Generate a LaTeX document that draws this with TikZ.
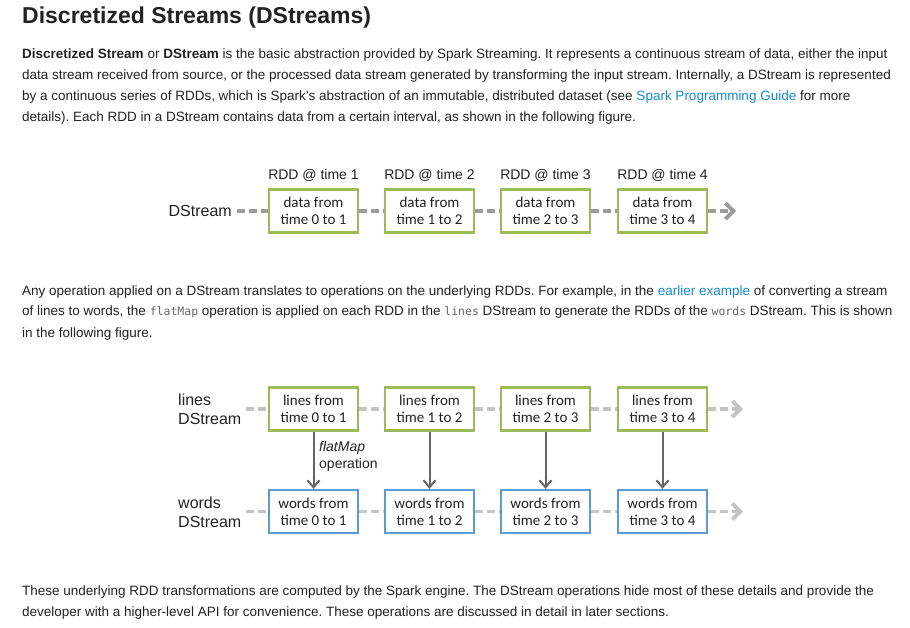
\documentclass[tikz,border=0pt]{standalone}
\usepackage{fontspec}
\setmainfont{Liberation Sans}
\setmonofont{DejaVu Sans Mono}
\newfontfamily\boxfont{Carlito}
\usetikzlibrary{arrows.meta}
\definecolor{txt}{HTML}{222222}
\definecolor{link}{HTML}{1589D1}
\definecolor{rddgreen}{HTML}{9BBB59}
\definecolor{rddblue}{HTML}{5B9BD5}
\definecolor{dashdark}{HTML}{9C9C9C}
\definecolor{dashlight}{HTML}{C4C4C4}
\definecolor{opgray}{HTML}{666666}
\newcommand{\code}[1]{{\ttfamily\fontsize{11.5}{13}\selectfont\color{opgray}#1}}
\frenchspacing

\begin{document}
\begin{tikzpicture}[x=1pt,y=-1pt,
    every node/.style={inner sep=0pt,text=txt},
    textline/.style={anchor=base west,font=\fontsize{13.5}{16}\selectfont},
    rdd/.style={draw=#1,line width=2.4pt,minimum width=89pt,minimum height=43pt,
        align=center,font=\boxfont\fontsize{15}{17}\selectfont,text=txt},
    stream/.style={draw=#1,line width=3.8pt,dash pattern=on 8pt off 4pt},
    streamend/.style={stream=#1,-{Straight Barb[length=8pt,width=16pt]}},
    flow/.style={draw=opgray,line width=2pt,-{Straight Barb[length=7pt,width=12pt]}}]
  \useasboundingbox[fill=white] (0,0) rectangle (910,628);

  % heading and first paragraph
  \node[anchor=base west,font=\bfseries\fontsize{23}{27}\selectfont] (title) at (22,23.3) {Discretized Streams (DStreams)};
  \node[textline] (p1a) at (22,58.5) {\textbf{Discretized Stream} or \textbf{DStream} is the basic abstraction provided by Spark Streaming. It represents a continuous stream of data, either the input};
  \node[textline] (p1b) at (22,79.5) {data stream received from source, or the processed data stream generated by transforming the input stream. Internally, a DStream is represented};
  \node[textline] (p1c) at (22,100.5) {by a continuous series of RDDs, which is Spark’s abstraction of an immutable, distributed dataset (see \textcolor{link}{Spark Programming Guide} for more};
  \node[textline] (p1d) at (22,121.5) {details). Each RDD in a DStream contains data from a certain interval, as shown in the following figure.};

  % first figure: one DStream
  \foreach \i/\a/\b/\x in {1/0/1/313.5,2/1/2/429.5,3/2/3/545.5,4/3/4/662.5}{
    \node[rdd=rddgreen] (d\i) at (\x,211) {data from\\time \a{} to \b};
    \node[font=\fontsize{14}{16}\selectfont] (h\i) at (\x,175) {RDD @ time \i};
  }
  \node[anchor=east,font=\fontsize{16}{18}\selectfont] (ds) at (232,211) {DStream};
  \coordinate (dsend) at (736,211);
  \draw[stream=dashdark] ([xshift=5pt]ds.east) -- (d1.west);
  \foreach \i/\j in {1/2,2/3,3/4}
    \draw[stream=dashdark] (d\i.east) -- (d\j.west);
  \draw[streamend=dashdark] (d4.east) -- (dsend);

  % second paragraph
  \node[textline] (p2a) at (22,295) {Any operation applied on a DStream translates to operations on the underlying RDDs. For example, in the \textcolor{link}{earlier example} of converting a stream};
  \node[textline] (p2b) at (22,316) {of lines to words, the \code{flatMap} operation is applied on each RDD in the \code{lines} DStream to generate the RDDs of the \code{words} DStream. This is shown};
  \node[textline] (p2c) at (22,337) {in the following figure.};

  % second figure: flatMap from lines to words
  \foreach \i/\a/\b/\x in {1/0/1/313.5,2/1/2/429.5,3/2/3/545.5,4/3/4/662.5}{
    \node[rdd=rddgreen] (l\i) at (\x,409) {lines from\\time \a{} to \b};
    \node[rdd=rddblue] (w\i) at (\x,511.5) {words from\\time \a{} to \b};
    \draw[flow] (l\i) -- (w\i);
  }
  \node[anchor=west,align=left,font=\fontsize{16}{19}\selectfont] (ls) at (178,409) {lines\\DStream};
  \node[anchor=west,align=left,font=\fontsize{16}{19}\selectfont] (ws) at (178,512) {words\\DStream};
  \node[anchor=west,align=left,font=\fontsize{14}{17}\selectfont] (op) at (319,456) {\textit{flatMap}\\operation};
  \coordinate (lsgap) at (246,409);
  \coordinate (wsgap) at (246,511.5);
  \coordinate (lsend) at (743,409);
  \coordinate (wsend) at (743,511.5);
  \draw[stream=dashlight] (lsgap) -- (l1.west);
  \draw[stream=dashlight] (wsgap) -- (w1.west);
  \foreach \i/\j in {1/2,2/3,3/4}{
    \draw[stream=dashlight] (l\i.east) -- (l\j.west);
    \draw[stream=dashlight] (w\i.east) -- (w\j.west);
  }
  \draw[streamend=dashlight] (l4.east) -- (lsend);
  \draw[streamend=dashlight] (w4.east) -- (wsend);

  % closing paragraph
  \node[textline] (p3a) at (22,595) {These underlying RDD transformations are computed by the Spark engine. The DStream operations hide most of these details and provide the};
  \node[textline] (p3b) at (22,616) {developer with a higher-level API for convenience. These operations are discussed in detail in later sections.};
\end{tikzpicture}
\end{document}
